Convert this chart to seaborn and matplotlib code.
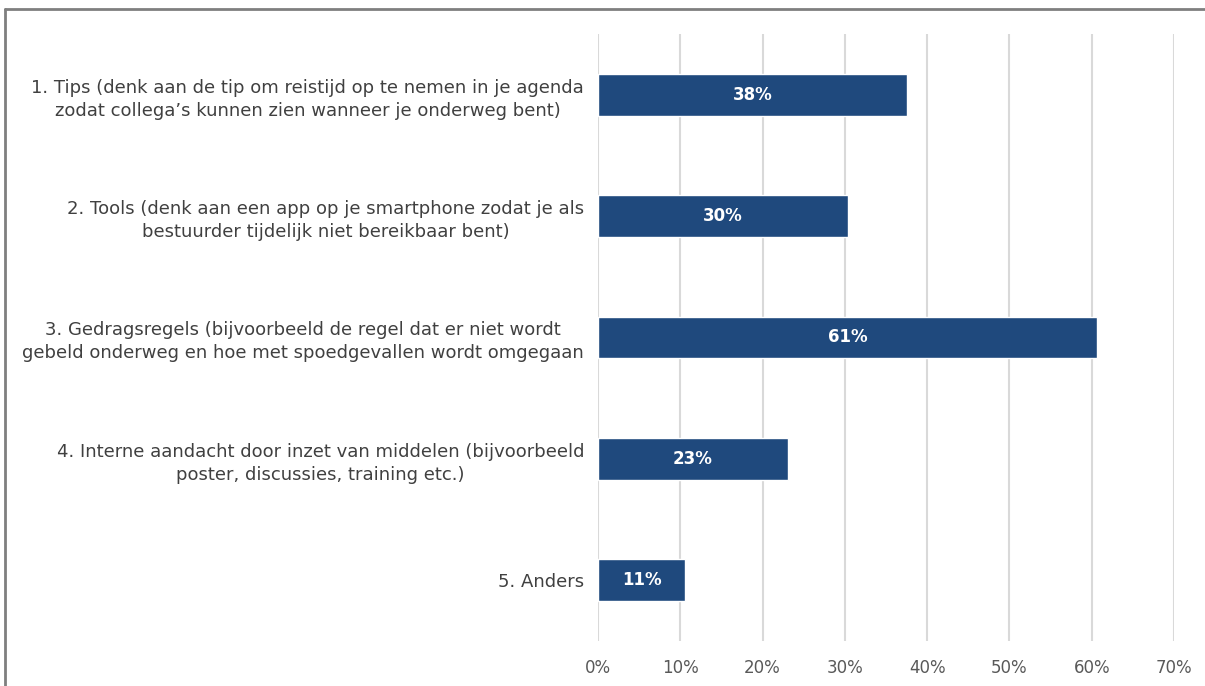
import matplotlib
matplotlib.use("Agg")
import matplotlib.pyplot as plt
import seaborn as sns
import pandas as pd
from matplotlib.lines import Line2D

categories = [
    "1. Tips (denk aan de tip om reistijd op te nemen in je agenda\nzodat collega\u2019s kunnen zien wanneer je onderweg bent)",
    "2. Tools (denk aan een app op je smartphone zodat je als\nbestuurder tijdelijk niet bereikbaar bent)",
    "3. Gedragsregels (bijvoorbeeld de regel dat er niet wordt\ngebeld onderweg en hoe met spoedgevallen wordt omgegaan",
    "4. Interne aandacht door inzet van middelen (bijvoorbeeld\nposter, discussies, training etc.)",
    "5. Anders",
]
values = [37.6, 30.4, 60.7, 23.1, 10.6]
labels = ["38%", "30%", "61%", "23%", "11%"]
xticks = [0, 10, 20, 30, 40, 50, 60, 70]

sns.set_theme(style="white")
plt.rcParams['font.family'] = ['DejaVu Sans']

W, H = 1205, 686
fig = plt.figure(figsize=(W / 100, H / 100), dpi=100)
ax = fig.add_axes([598 / W, 1 - 641 / H, (1174 - 598) / W, (641 - 34) / H])

df = pd.DataFrame({"cat": categories, "val": values})
sns.barplot(data=df, y="cat", x="val", orient="h", color="#1f497d",
            saturation=1, width=0.345, ax=ax)

for i, (v, lab) in enumerate(zip(values, labels)):
    ax.text(v / 2, i, lab, ha="center", va="center", color="white",
            fontsize=12, fontweight="bold")

ax.set_xlim(0, 70)
ax.set_ylim(4.5, -0.5)
ax.set_xticks(xticks)
ax.set_xticklabels([f"{t}%" for t in xticks])
ax.xaxis.grid(True, color="#d9d9d9", linewidth=1.5)
ax.set_axisbelow(True)
for s in ax.spines.values():
    s.set_visible(False)
ax.set_xlabel("")
ax.set_ylabel("")
ax.tick_params(axis="x", length=0, pad=13, labelsize=12, labelcolor="#595959")
ax.tick_params(axis="y", length=0, pad=10, labelsize=13, labelcolor="#404040")
for t in ax.get_yticklabels():
    t.set_multialignment("center")
    t.set_linespacing(1.35)

# outer frame
fig.add_artist(Line2D([5 / W, 1], [1 - 9 / H, 1 - 9 / H], transform=fig.transFigure,
                      color="#7f7f7f", linewidth=2))
fig.add_artist(Line2D([5 / W, 5 / W], [0, 1 - 9 / H], transform=fig.transFigure,
                      color="#7f7f7f", linewidth=2))

fig.savefig("out.png", dpi=100, facecolor="white")
